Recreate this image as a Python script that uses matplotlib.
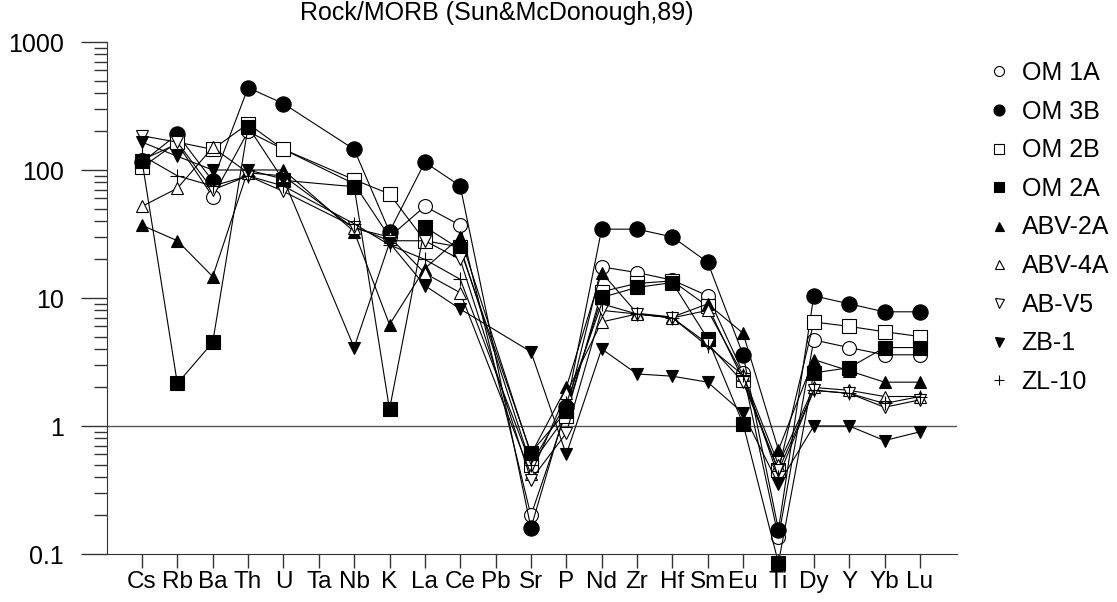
#!/usr/bin/env python3

import numpy as np
import matplotlib; matplotlib.use('Agg')
from matplotlib import pyplot as plt
from matplotlib.lines import Line2D

############## DATA ################

nan = np.nan
elements = ['Cs', 'Rb', 'Ba', 'Th', 'U', 'Ta', 'Nb', 'K', 'La', 'Ce', 'Pb', 'Sr',
            'P', 'Nd', 'Zr', 'Hf', 'Sm', 'Eu', 'Ti', 'Dy', 'Y', 'Yb', 'Lu']

om_1a = [120, 160, 62, 200, 145, nan, 78, 30, 52, 37, nan, 0.2,
         1.3, 17.5, 15.8, 13.8, 10.4, 2.6, 0.135, 4.7, 4.1, 3.6, 3.6]
om_3b = [115, 190, 82, 440, 330, nan, 145, 33, 115, 75, nan, 0.16,
         1.4, 34.5, 34.5, 30, 19, 3.6, 0.155, 10.4, 9.0, 7.8, 7.8]
om_2b = [105, 165, 145, 230, 145, nan, 84, 65, 28, 25, nan, 0.5,
         1.2, 11.2, 13, 13.6, 8.6, 2.3, 0.45, 6.5, 6.0, 5.45, 5.0]
om_2a = [118, 2.15, 4.5, 218, 83, nan, 74, 1.35, 36, 24, nan, 0.62,
         1.3, 10.1, 12.1, 13.2, 4.8, 1.04, 0.085, 2.6, 2.85, 4.1, 4.1]
abv_2a = [37, 28, 14.7, 100, 100, nan, 33, 6.2, 17, 30, nan, 0.6,
          2.0, 15.8, 7.6, 7.1, 9.0, 5.3, 0.65, 3.3, 2.7, 2.2, 2.2]
abv_4a = [52, 72, 150, 95, 90, nan, 35, 30, 15.6, 11, nan, 0.42,
          1.8, 6.5, 7.5, 7.0, 8.0, 2.5, 0.5, 2.0, 1.9, 1.7, 1.7]
ab_v5 = [185, 165, 70, 90, 68, nan, 36, 28, 28, 20, nan, 0.38,
         0.88, 8.0, 7.5, 7.0, 4.4, 2.2, 0.45, 1.9, 1.8, 1.4, 1.6]
zb_1 = [165, 128, 100, 100, 85, nan, 4.1, 27, 12.5, 8.2, nan, 3.8,
        0.6, 4.0, 2.55, 2.45, 2.2, 1.26, 0.35, 1.0, 1.0, 0.77, 0.9]
zl_10 = [130, 90, 75, 90, 75, nan, 38, 26, 20, 14, nan, 0.5,
         1.5, 9.0, 7.5, 7.0, 4.2, 2.5, 0.4, 1.9, 1.8, 1.5, 1.7]

samples = ['OM 1A', 'OM 3B', 'OM 2B', 'OM 2A', 'ABV-2A', 'ABV-4A', 'AB-V5', 'ZB-1', 'ZL-10']
values = [om_1a, om_3b, om_2b, om_2a, abv_2a, abv_4a, ab_v5, zb_1, zl_10]

############## PLOT ################

plt.rcParams['font.family'] = ['Liberation Sans', 'DejaVu Sans']

# marker, filled?, size
styles = [('o', False, 10), ('o', True, 11), ('s', False, 10), ('s', True, 10),
          ('^', True, 9), ('^', False, 9), ('v', False, 9), ('v', True, 9), ('+', True, 10)]

fig = plt.figure(figsize=(11.17, 6.02), dpi=100)
ax = fig.add_axes([107 / 1117, 48 / 602, 850 / 1117, 512 / 602])

x = np.arange(len(elements))
for name, vals, (m, filled, ms) in zip(samples, values, styles):
    v = np.array(vals, dtype=float)
    ok = ~np.isnan(v)
    ax.plot(x[ok], v[ok], color='black', linewidth=0.8, marker=m, markersize=ms,
            markerfacecolor='black' if filled else 'white', markeredgecolor='black',
            markeredgewidth=0.8, clip_on=False)

ax.axhline(1, color='#555555', linewidth=1.0, zorder=1)

ax.set_yscale('log')
ax.set_ylim(0.1, 1000)
ax.set_xlim(-0.99, 23.05)

ax.spines['top'].set_visible(False)
ax.spines['right'].set_visible(False)
ax.spines['left'].set_color('#333333')
ax.spines['bottom'].set_color('#333333')

ax.set_yticks([0.1, 1, 10, 100, 1000])
ax.set_yticklabels(['0.1', '1', '10', '100', '1000'])
ax.tick_params(axis='y', which='major', length=19, width=1, pad=12,
               labelsize=18, color='#333333')
ax.tick_params(axis='y', which='minor', length=9.5, width=1, color='#333333')

ax.set_xticks(x)
ax.set_xticklabels(elements)
ax.tick_params(axis='x', which='major', length=10, width=1, pad=2,
               labelsize=17.5, color='#333333')

fig.text(0.445, 0.979, 'Rock/MORB (Sun&McDonough,89)', ha='center', va='center',
         fontsize=18)

handles = []
for name, (m, filled, ms) in zip(samples, styles):
    handles.append(Line2D([], [], linestyle='none', marker=m, markersize=ms * 0.72,
                          markerfacecolor='black' if filled else 'white',
                          markeredgecolor='black', markeredgewidth=0.8, label=name))
fig.legend(handles=handles, loc='upper left', bbox_to_anchor=(988 / 1117, 1 - 61 / 602),
           frameon=False, fontsize=18, handlelength=0.9, handletextpad=0.45,
           labelspacing=0.585, borderpad=0, borderaxespad=0)

plt.savefig('out.png', dpi=100)
plt.close()
